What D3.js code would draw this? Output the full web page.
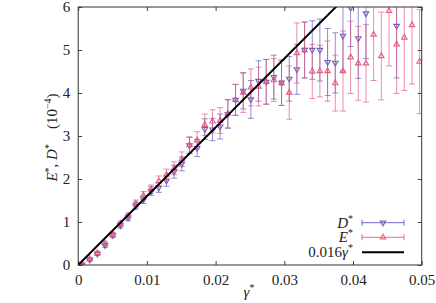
<!DOCTYPE html>
<html>
<head>
<meta charset="utf-8">
<script src="https://cdn.jsdelivr.net/npm/d3@7"></script>
<style>
body { margin: 0; background: #fff; }
</style>
</head>
<body>
<div id="chart"></div>
<script>
// data (values in units of 1e-4)
var gamma = [0.00056, 0.00168, 0.00279, 0.00391, 0.00503, 0.00614, 0.00726, 0.00838, 0.00950,
    0.01061, 0.01173, 0.01285, 0.01396, 0.01508, 0.01620, 0.01731, 0.01843, 0.01955, 0.02066,
    0.02178, 0.02290, 0.02402, 0.02513, 0.02625, 0.02737, 0.02848, 0.02960, 0.03072, 0.03183,
    0.03295, 0.03407, 0.03518, 0.03630, 0.03742, 0.03854, 0.03965, 0.04077, 0.04189, 0.04300,
    0.04412, 0.04524, 0.04635, 0.04747, 0.04859, 0.04970];

var dStar = [0.01, 0.12, 0.26, 0.46, 0.69, 0.92, 1.10, 1.38, 1.52, 1.72, 1.80, 1.96, 2.17, 2.35,
    2.78, 2.72, 3.16, 3.15, 3.22, 3.51, 3.84, 4.05, 3.85, 4.28, 4.26, 4.37, 4.24, 4.33, 4.55,
    5.00, 5.00, 5.00, 4.72, 4.70, 5.33, 5.98, 5.27, 5.85, 7.6, 7.7, 7.8, 5.56, 7.9, 8.0, 8.1];
var dErr = [0.02, 0.03, 0.04, 0.05, 0.05, 0.06, 0.07, 0.08, 0.09, 0.10, 0.11, 0.13, 0.15, 0.16,
    0.19, 0.20, 0.24, 0.26, 0.29, 0.33, 0.36, 0.42, 0.44, 0.47, 0.52, 0.51, 0.53, 0.52, 0.58,
    0.65, 0.68, 0.72, 0.78, 0.70, 0.82, 0.90, 0.93, 1.05, 1.0, 1.1, 1.2, 1.21, 1.25, 1.3, 1.3];

var eStar = [0.02, 0.14, 0.28, 0.50, 0.71, 0.96, 1.14, 1.43, 1.62, 1.76, 1.95, 2.10, 2.25, 2.46,
    2.79, 2.90, 3.26, 3.34, 3.36, 3.52, 3.84, 4.01, 4.13, 4.15, 4.26, 4.30, 4.23, 4.01, 4.93,
    5.00, 4.50, 4.51, 4.51, 4.23, 4.51, 4.83, 4.69, 4.69, 5.36, 4.86, 5.91, 5.13, 5.29, 5.58, 4.73];
var eErr = [0.02, 0.03, 0.04, 0.05, 0.05, 0.06, 0.07, 0.08, 0.09, 0.10, 0.12, 0.13, 0.15, 0.17,
    0.19, 0.20, 0.25, 0.27, 0.30, 0.33, 0.36, 0.46, 0.43, 0.45, 0.52, 0.50, 0.52, 0.62, 0.70,
    0.65, 0.63, 0.60, 0.70, 0.65, 0.93, 0.84, 0.86, 0.90, 1.07, 1.02, 1.28, 1.14, 1.23, 1.37, 1.21];

var fitSlope = 160;   // 0.016 gamma, in units of 1e-4

var xTicks = [0, 0.01, 0.02, 0.03, 0.04, 0.05];
var xTickLabels = ["0", "0.01", "0.02", "0.03", "0.04", "0.05"];
var yTicks = [0, 1, 2, 3, 4, 5, 6];

var svgWidth = 436;
var svgHeight = 303;
var margin = { top: 7, right: 14.3, bottom: 38, left: 78.2 };
var width = svgWidth - margin.left - margin.right;
var height = svgHeight - margin.top - margin.bottom;

var colD = "#5454b8";
var colE = "#e0527c";

// pick the first serif face that is really installed
function pickSerif() {
    var ctx = document.createElement("canvas").getContext("2d");
    var probe = "0.016γ E D (10) abcxyz";
    function w(f) { ctx.font = "40px " + f; return ctx.measureText(probe).width; }
    var mono = w("monospace"), sans = w("sans-serif");
    var names = ["Liberation Serif", "DejaVu Serif", "Noto Serif", "Tinos", "Times New Roman", "FreeSerif"];
    for (var i = 0; i < names.length; i++) {
        var a = w("'" + names[i] + "', monospace"), b = w("'" + names[i] + "', sans-serif");
        if (a != mono || b != sans) return "'" + names[i] + "', serif";
    }
    return "serif";
}
var serif = pickSerif();

var svg = d3.select("#chart")
    .append("svg")
    .attr("width", svgWidth)
    .attr("height", svgHeight)
    .attr("font-family", serif);

var chartGroup = svg.append("g")
    .attr("transform", `translate(${margin.left}, ${margin.top})`);

var x = d3.scaleLinear().domain([0, 0.05]).range([0, width]);
var y = d3.scaleLinear().domain([0, 6]).range([height, 0]);

chartGroup.append("clipPath").attr("id", "plotClip")
    .append("rect").attr("width", width).attr("height", height);

// axes, ticks pointing inward on all four sides
var bottomAxis = d3.axisBottom(x).tickValues(xTicks)
    .tickFormat((d, i) => xTickLabels[i]).tickSizeInner(-4).tickSizeOuter(0).tickPadding(9);
var leftAxis = d3.axisLeft(y).tickValues(yTicks)
    .tickFormat(d3.format("d")).tickSizeInner(-4).tickSizeOuter(0).tickPadding(8);
var topAxis = d3.axisTop(x).tickValues(xTicks).tickFormat("").tickSizeInner(-4).tickSizeOuter(0);
var rightAxis = d3.axisRight(y).tickValues(yTicks).tickFormat("").tickSizeInner(-4).tickSizeOuter(0);

function styleAxis(g) {
    g.attr("font-family", serif).attr("font-size", 15);
    g.select(".domain").remove();
    g.selectAll(".tick line").attr("stroke", "#444");
    g.selectAll("text").attr("fill", "#222");
}

chartGroup.append("g").attr("transform", `translate(0, ${height})`).call(bottomAxis).call(styleAxis);
chartGroup.append("g").call(leftAxis).call(styleAxis);
chartGroup.append("g").call(topAxis).call(styleAxis);
chartGroup.append("g").attr("transform", `translate(${width}, 0)`).call(rightAxis).call(styleAxis);

// error-bar series
function drawSeries(vals, errs, color, flip) {
    var pts = gamma.map((g, i) => ({ g: g, v: vals[i], e: errs[i] }));
    var grp = chartGroup.append("g").attr("clip-path", "url(#plotClip)");
    var cap = 3;

    var bars = grp.selectAll(null).data(pts).enter().append("g")
        .attr("stroke", color).attr("stroke-opacity", 0.65).attr("stroke-width", 1);
    bars.append("line")
        .attr("x1", d => x(d.g)).attr("x2", d => x(d.g))
        .attr("y1", d => y(d.v - d.e)).attr("y2", d => y(d.v + d.e));
    bars.append("line")
        .attr("x1", d => x(d.g) - cap).attr("x2", d => x(d.g) + cap)
        .attr("y1", d => y(d.v - d.e)).attr("y2", d => y(d.v - d.e));
    bars.append("line")
        .attr("x1", d => x(d.g) - cap).attr("x2", d => x(d.g) + cap)
        .attr("y1", d => y(d.v + d.e)).attr("y2", d => y(d.v + d.e));

    grp.selectAll(null).data(pts).enter().append("path")
        .attr("d", d3.symbol().type(d3.symbolTriangle).size(13))
        .attr("transform", d => `translate(${x(d.g)}, ${y(d.v)}) rotate(${flip ? 180 : 0})`)
        .attr("fill", "none")
        .attr("stroke", color)
        .attr("stroke-opacity", 0.9)
        .attr("stroke-width", 1.1);
}

drawSeries(dStar, dErr, colD, true);
drawSeries(eStar, eErr, colE, false);

// fitted line 0.016 gamma
chartGroup.append("g").attr("clip-path", "url(#plotClip)")
    .append("line")
    .attr("x1", x(0)).attr("y1", y(0))
    .attr("x2", x(0.05)).attr("y2", y(fitSlope * 0.05))
    .attr("stroke", "#000").attr("stroke-width", 2);

// frame
chartGroup.append("rect")
    .attr("width", width).attr("height", height)
    .attr("fill", "none").attr("stroke", "#333").attr("stroke-width", 1);

// axis labels
var yLab = svg.append("text")
    .attr("transform", "translate(57, 137.5) rotate(-90)")
    .attr("text-anchor", "middle")
    .attr("font-size", 15).attr("fill", "#222");
yLab.append("tspan").attr("font-style", "italic").text("E");
yLab.append("tspan").attr("font-size", 10).attr("dy", -5).text("*");
yLab.append("tspan").attr("dy", 5).text(", ");
yLab.append("tspan").attr("font-style", "italic").text("D");
yLab.append("tspan").attr("font-size", 10).attr("dy", -5).text("*");
yLab.append("tspan").attr("dy", 5).text("\u2003(10");
yLab.append("tspan").attr("font-size", 10).attr("dy", -6).text("\u22124");
yLab.append("tspan").attr("dy", 6).text(")");

var xLab = svg.append("text")
    .attr("x", 249).attr("y", 297)
    .attr("text-anchor", "middle")
    .attr("font-size", 15).attr("fill", "#222");
xLab.append("tspan").attr("font-style", "italic").text("\u03b3");
xLab.append("tspan").attr("font-size", 10).attr("dy", -6).text("*");

// legend
var legend = svg.append("g");
var legRows = [
    { name: "D", italic: true, color: colD, type: "err", flip: true, y: 222.7 },
    { name: "E", italic: true, color: colE, type: "err", flip: false, y: 237.3 },
    { name: "0.016", italic: false, color: "#000", type: "line", y: 252.3 }
];
legRows.forEach(function (r) {
    var t = legend.append("text")
        .attr("x", 353).attr("y", r.y + 5)
        .attr("text-anchor", "end")
        .attr("font-size", 15).attr("fill", "#222");
    t.append("tspan").attr("font-style", r.italic ? "italic" : "normal").text(r.name);
    if (r.type == "line") t.append("tspan").attr("font-style", "italic").text("\u03b3");
    t.append("tspan").attr("font-size", 10).attr("dy", -6).text("*");

    if (r.type == "err") {
        var g = legend.append("g").attr("stroke", r.color).attr("stroke-opacity", 0.85);
        g.append("line").attr("x1", 362).attr("x2", 404).attr("y1", r.y).attr("y2", r.y);
        g.append("line").attr("x1", 362).attr("x2", 362).attr("y1", r.y - 3).attr("y2", r.y + 3);
        g.append("line").attr("x1", 404).attr("x2", 404).attr("y1", r.y - 3).attr("y2", r.y + 3);
        g.append("path")
            .attr("d", d3.symbol().type(d3.symbolTriangle).size(13))
            .attr("transform", `translate(383, ${r.y}) rotate(${r.flip ? 180 : 0})`)
            .attr("fill", "none").attr("stroke-width", 1.1);
    } else {
        legend.append("line").attr("x1", 362).attr("x2", 404).attr("y1", r.y).attr("y2", r.y)
            .attr("stroke", "#000").attr("stroke-width", 2);
    }
});
</script>
</body>
</html>
